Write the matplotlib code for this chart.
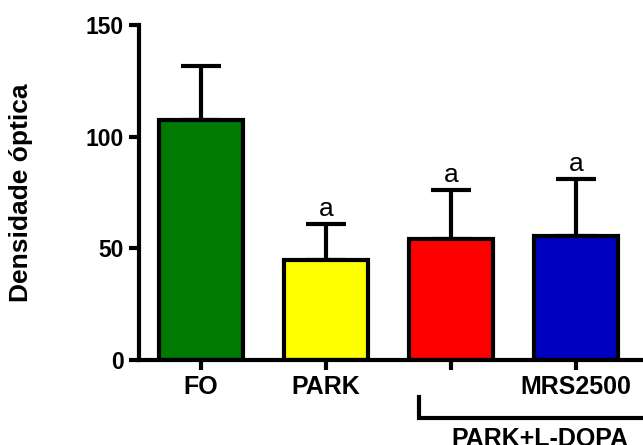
import matplotlib
matplotlib.use("Agg")
import matplotlib.pyplot as plt
from matplotlib.transforms import blended_transform_factory

categories = ["FO", "PARK", "", "MRS2500"]
means = [107.6, 44.8, 54.3, 55.7]
errors = [24.0, 16.1, 22.0, 25.4]
colors = ["#007A00", "#FFFF00", "#FF0000", "#0000C0"]
sig_labels = ["", "a", "a", "a"]
yticks = [0, 50, 100, 150]
group_label = "PARK+L-DOPA"

plt.rcParams['font.family'] = ['Liberation Sans', 'DejaVu Sans']

fig = plt.figure(figsize=(6.43, 4.45), dpi=100)
ax = fig.add_axes([0.216, 0.191, 0.784, 0.753])

x = list(range(len(categories)))
ax.bar(x, means, width=0.67, color=colors, edgecolor="black", linewidth=3, zorder=2)
ax.errorbar(x, means, yerr=[[0]*len(means), errors], fmt="none", ecolor="black",
            elinewidth=3, capsize=14.5, capthick=3, zorder=1)
for xi, m, e, s in zip(x, means, errors, sig_labels):
    if s:
        ax.text(xi, m + e + 3.5, s, ha="center", va="baseline", fontsize=19)

ax.set_xlim(-0.496, 3.536)
ax.set_ylim(0, 150)
ax.set_yticks(yticks)
ax.set_xticks(x)
ax.set_xticklabels(categories, fontweight="bold", fontsize=18)
for lbl in ax.get_yticklabels():
    lbl.set_fontweight("bold")
    lbl.set_fontsize(16.5)
ax.tick_params(axis="both", width=3, length=7, direction="out", pad=4)
ax.spines["top"].set_visible(False)
ax.spines["right"].set_visible(False)
ax.spines["left"].set_linewidth(3)
ax.spines["bottom"].set_linewidth(3)
ax.set_ylabel("Densidade óptica", fontweight="bold", fontsize=19)
ax.yaxis.set_label_coords(-0.21, 0.5)

trans = blended_transform_factory(ax.transData, ax.transAxes)
ax.plot([1.744, 1.744, 3.7], [-0.11, -0.173, -0.173], color="black", lw=3,
        transform=trans, clip_on=False, solid_joinstyle="miter")
ax.text(2.71, -0.235, group_label, transform=trans, ha="center", va="center",
        fontweight="bold", fontsize=18, clip_on=False)

fig.savefig("out.png", dpi=100)
